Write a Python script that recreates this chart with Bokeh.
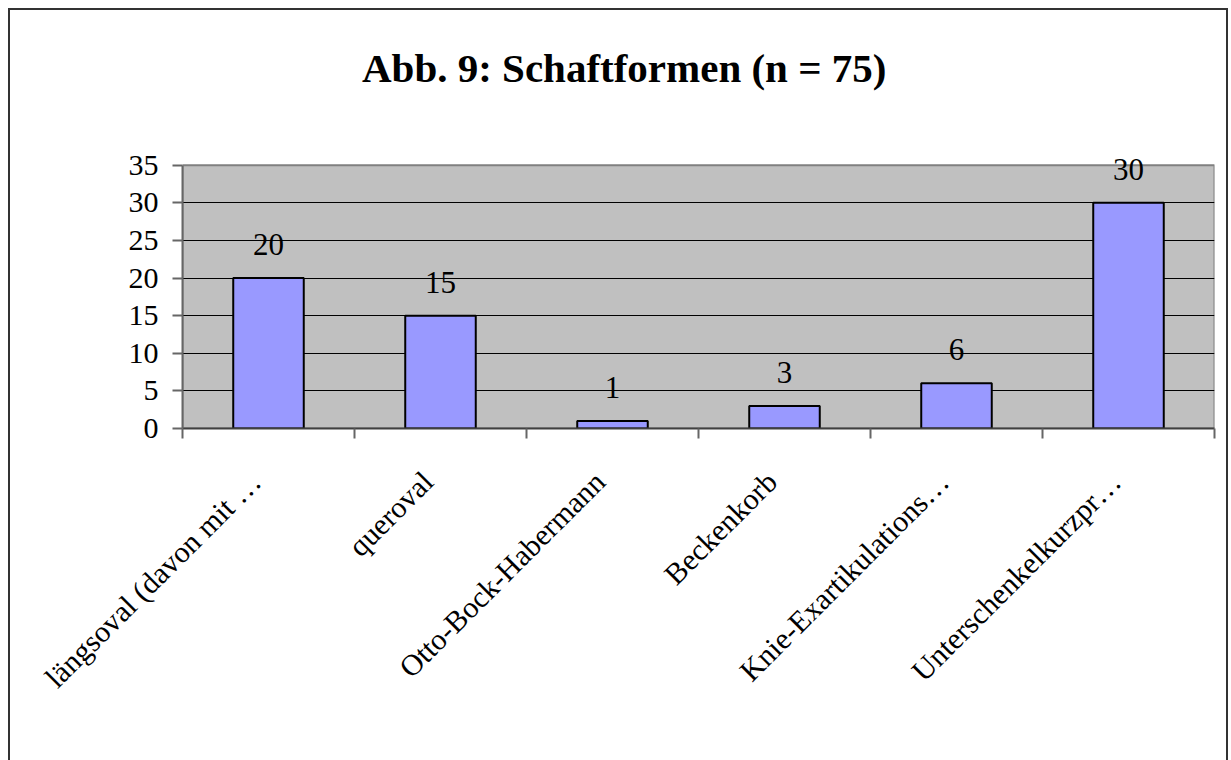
import math
from bokeh.plotting import figure
from bokeh.models import FixedTicker, LabelSet, ColumnDataSource, Range1d, Label
from bokeh.core.properties import value
from bokeh.embed import file_html
from bokeh.resources import INLINE

title_text = "Abb. 9: Schaftformen (n = 75)"
categories = [
    "längsoval (davon mit …",
    "queroval",
    "Otto-Bock-Habermann",
    "Beckenkorb",
    "Knie-Exartikulations…",
    "Unterschenkelkurzpr…",
]
values = [20, 15, 1, 3, 6, 30]
y_ticks = [0, 5, 10, 15, 20, 25, 30, 35]

FONT = "Liberation Serif"

# layout geometry (pixels)
CANVAS_W, CANVAS_H = 1216, 750
FRAME_L, FRAME_R = 172, 16
FRAME_T, FRAME_B = 10, 334
PLOT_H_PX = 262          # height of the grey plotting area
frame_w = CANVAS_W - FRAME_L - FRAME_R
frame_h = CANVAS_H - FRAME_T - FRAME_B
y_max = y_ticks[-1]
y_end = y_max * frame_h / PLOT_H_PX
n = len(categories)

xs = [i + 0.5 for i in range(n)]
src = ColumnDataSource(dict(x=xs, v=values, lbl=[str(v) for v in values]))

p = figure(
    width=CANVAS_W + 4, height=CANVAS_H + 2,
    x_range=Range1d(0, n), y_range=Range1d(0, y_end),
    output_backend="svg", toolbar_location=None,
    min_border_left=FRAME_L, min_border_right=FRAME_R,
    min_border_top=FRAME_T, min_border_bottom=FRAME_B,
)
p.styles = {
    "margin-left": "8px",
    "margin-top": "8px",
    "border-left": "2px solid #333333",
    "border-top": "2px solid #333333",
    "border-right": "2px solid #333333",
}
p.background_fill_color = "white"
p.border_fill_color = "white"
p.outline_line_color = None

# grey plotting area
p.quad(left=[0], right=[n], bottom=[0], top=[y_max], fill_color="#C0C0C0",
       line_color="#808080", line_width=2, level="image")

p.vbar(x="x", top="v", width=0.41, source=src, fill_color="#9999FF",
       line_color="black", line_width=2)

labels = LabelSet(x="x", y="v", text="lbl", source=src, y_offset=23,
                  text_align="center", text_baseline="alphabetic",
                  text_font=value(FONT), text_font_size=value("31px"),
                  text_color="black")
p.add_layout(labels)

# chart title (placed in pixel offsets from the plotting area's top-left)
p.add_layout(Label(x=440 * n / frame_w, y=y_max + 97 * y_max / PLOT_H_PX,
                   text=title_text, text_font=FONT, text_font_size="41px",
                   text_font_style="bold", text_color="black",
                   text_align="center", text_baseline="alphabetic"))

# x axis
label_pos = [x - 0.075 for x in xs]
p.xaxis.ticker = FixedTicker(ticks=label_pos, minor_ticks=list(range(n + 1)))
p.xaxis.major_label_overrides = {x: c for x, c in zip(label_pos, categories)}
p.xaxis.major_tick_out = 0
p.xaxis.major_tick_in = 0
p.xaxis.minor_tick_out = 10
p.xaxis.minor_tick_in = 0
p.xaxis.minor_tick_line_color = "#666666"
p.xaxis.minor_tick_line_width = 2
p.xaxis.axis_line_color = "#404040"
p.xaxis.axis_line_width = 2
p.xaxis.major_label_orientation = math.pi / 4
p.xaxis.major_label_standoff = 38

# y axis
p.yaxis.ticker = FixedTicker(ticks=y_ticks, minor_ticks=[])
p.yaxis.bounds = (0, y_max)
p.yaxis.major_tick_out = 10
p.yaxis.major_tick_in = 0
p.yaxis.major_tick_line_color = "#666666"
p.yaxis.major_tick_line_width = 2
p.yaxis.axis_line_color = "#666666"
p.yaxis.axis_line_width = 2
p.yaxis.major_label_standoff = 14

for ax in (p.xaxis, p.yaxis):
    ax.major_label_text_font = FONT
    ax.major_label_text_font_size = "30px"
    ax.major_label_text_color = "black"
    ax.major_label_text_font_style = "normal"

p.xgrid.visible = False
p.ygrid.ticker = FixedTicker(ticks=y_ticks[1:-1])
p.ygrid.grid_line_color = "black"
p.ygrid.grid_line_width = 1

open("out.html", "w").write(file_html(p, INLINE))
